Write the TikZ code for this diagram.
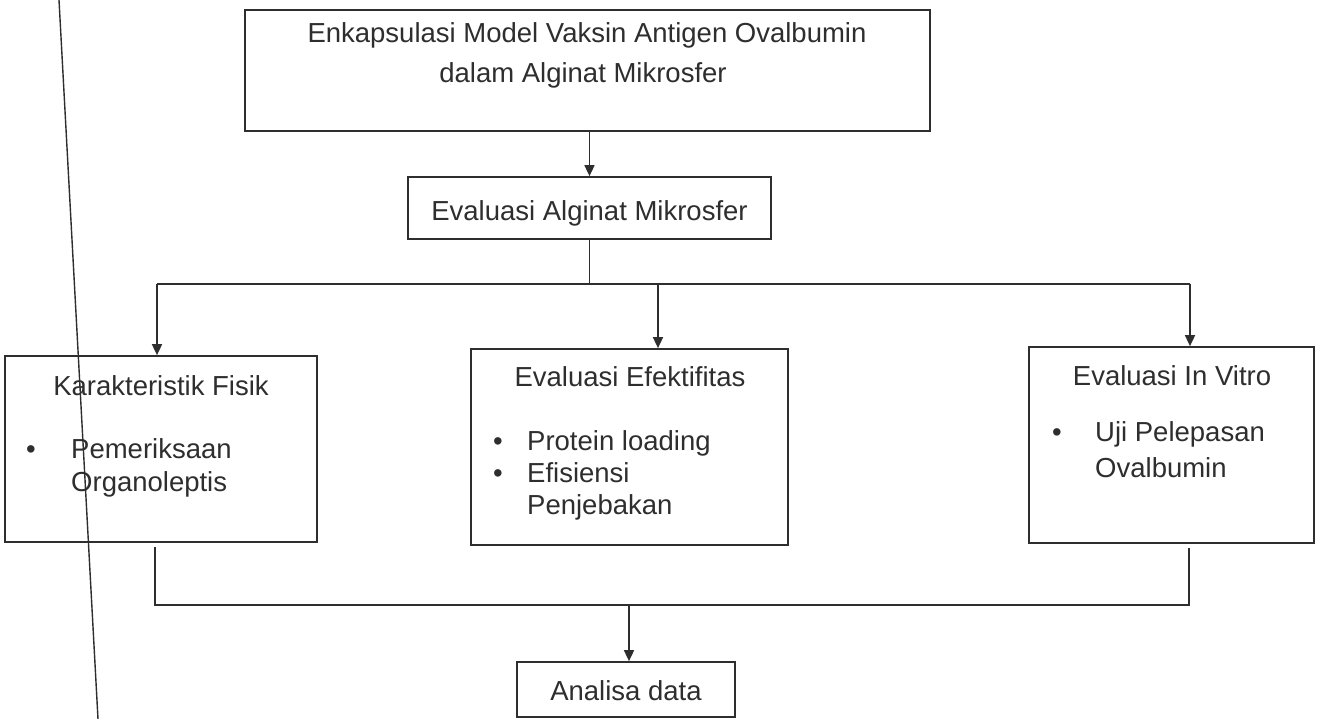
\documentclass[tikz,border=0pt]{standalone}
\usepackage{fontspec}
\setmainfont{Liberation Sans}
\usetikzlibrary{arrows.meta}
\definecolor{ink}{HTML}{2E2E2E}
\tikzset{
  box/.style={draw=ink, line width=1.7pt, inner sep=0pt, rectangle},
  txt/.style={anchor=base, inner sep=0pt, text=ink, font=\fontsize{27.5}{33}\selectfont},
  txtl/.style={anchor=base west, inner sep=0pt, text=ink, font=\fontsize{27.5}{33}\selectfont},
  conn/.style={draw=ink, line width=1.6pt},
  arr/.style={conn, -{Triangle[length=11pt, width=10pt]}},
}
\begin{document}
\begin{tikzpicture}[x=1pt, y=-1pt]
\useasboundingbox (0,0) rectangle (1320,719);
\fill[white] (0,0) rectangle (1320,719);

% boxes
\node[box, minimum width=685pt, minimum height=121pt] (top) at (587.5,70.5) {};
\node[box, minimum width=363pt, minimum height=62pt] (eam) at (589.5,208) {};
\node[box, minimum width=312pt, minimum height=186pt] (kar) at (161,449) {};
\node[box, minimum width=317pt, minimum height=196pt] (eff) at (629.5,447) {};
\node[box, minimum width=285pt, minimum height=196pt] (vit) at (1171.5,445) {};
\node[box, minimum width=218pt, minimum height=55pt] (ana) at (626,689.5) {};

% texts
\node[txt] (t1) at (587,43) {Enkapsulasi Model Vaksin Antigen Ovalbumin};
\node[txt] (t2) at (583,83) {dalam Alginat Mikrosfer};
\node[txt] (t3) at (589.5,221) {Evaluasi Alginat Mikrosfer};

\node[txt] (k0) at (161,395) {Karakteristik Fisik};
\node[txt] (kb1) at (31,458) {•};
\node[txtl] (k1) at (71,458) {Pemeriksaan};
\node[txtl] (k2) at (71,491) {Organoleptis};

\node[txt] (e0) at (630,386) {Evaluasi Efektifitas};
\node[txt] (eb1) at (498,450) {•};
\node[txtl] (e1) at (527,450) {Protein loading};
\node[txt] (eb2) at (498,482) {•};
\node[txtl] (e2) at (527,482) {Efisiensi};
\node[txtl] (e3) at (527,514) {Penjebakan};

\node[txt] (v0) at (1172,385) {Evaluasi In Vitro};
\node[txt] (vb1) at (1057,441) {•};
\node[txtl] (v1) at (1095,441) {Uji Pelepasan};
\node[txtl] (v2) at (1095,477) {Ovalbumin};

\node[txt] (a0) at (626,700) {Analisa data};

% connector points
\coordinate (jl) at (157,284);
\coordinate (jr) at (1190,284);
\coordinate (jm) at (658,284);
\coordinate (bl0) at (155,547);
\coordinate (bl) at (155,605);
\coordinate (br0) at (1189,548);
\coordinate (br) at (1189,605);
\coordinate (bm) at (629,605);

% connectors
\draw[arr] (top.south -| eam.north) -- (eam.north);
\draw[conn] (eam.south) -- (eam.south |- jl);
\draw[conn] (jl) -- (jr);
\draw[arr] (jl) -- (jl |- kar.north);
\draw[arr] (jm) -- (jm |- eff.north);
\draw[arr] (jr) -- (jr |- vit.north);
\draw[conn] (bl0) -- (bl) -- (br) -- (br0);
\draw[arr] (bm) -- (bm |- ana.north);

% stray scan line
\coordinate (s0) at (59,0);
\coordinate (s1) at (98,719);
\draw[conn, line width=1.4pt] (s0) -- (s1);
\end{tikzpicture}
\end{document}
